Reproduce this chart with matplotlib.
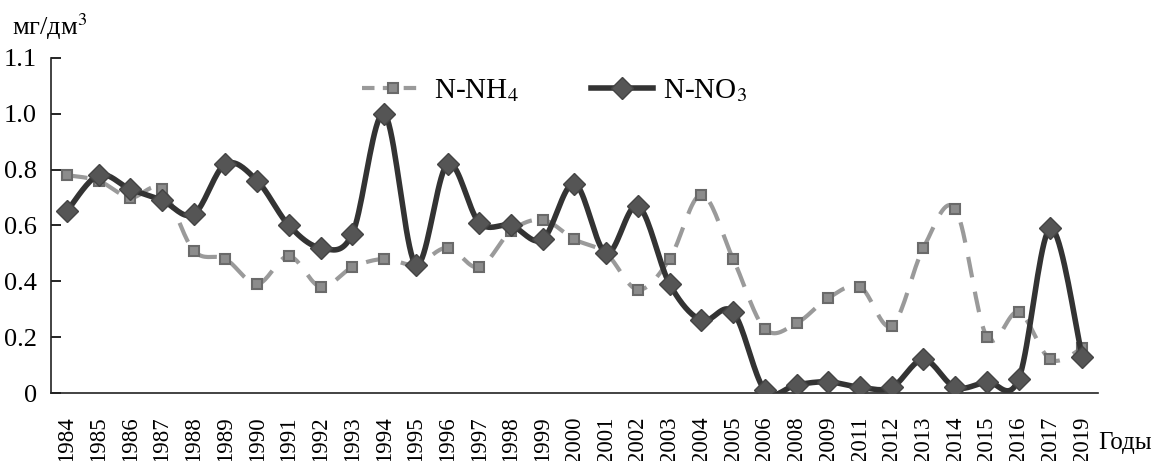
import numpy as np
import matplotlib
matplotlib.use('Agg')
import matplotlib.pyplot as plt

plt.rcParams['font.family'] = ['Liberation Serif', 'DejaVu Serif']
plt.rcParams['mathtext.fontset'] = 'stix'

years = ['1984', '1985', '1986', '1987', '1988', '1989', '1990', '1991', '1992', '1993',
         '1994', '1995', '1996', '1997', '1998', '1999', '2000', '2001', '2002', '2003',
         '2004', '2005', '2006', '2008', '2009', '2011', '2012', '2013', '2014', '2015',
         '2016', '2017', '2019']

nh4 = [0.78, 0.76, 0.70, 0.73, 0.51, 0.48, 0.39, 0.49, 0.38, 0.45,
       0.48, 0.46, 0.52, 0.45, 0.58, 0.62, 0.55, 0.50, 0.37, 0.48,
       0.71, 0.48, 0.23, 0.25, 0.34, 0.38, 0.24, 0.52, 0.66, 0.20,
       0.29, 0.12, 0.16]

no3 = [0.65, 0.78, 0.73, 0.69, 0.64, 0.82, 0.76, 0.60, 0.52, 0.57,
       1.00, 0.46, 0.82, 0.61, 0.60, 0.55, 0.75, 0.50, 0.67, 0.39,
       0.26, 0.29, 0.01, 0.03, 0.04, 0.02, 0.02, 0.12, 0.02, 0.04,
       0.05, 0.59, 0.13]

y_ticks = [0, 0.2, 0.4, 0.6, 0.8, 1.0, 1.2]
y_labels = ['0', '0.2', '0.4', '0.6', '0.8', '1.0', '1.1']


def smooth(x, y, n=20):
    # excel-like smoothed line (bezier through the points)
    x = np.asarray(x, float)
    y = np.asarray(y, float)
    px = np.concatenate([[x[0]], x, [x[-1]]])
    py = np.concatenate([[y[0]], y, [y[-1]]])
    xs, ys = [], []
    t = np.linspace(0, 1, n, endpoint=False)
    for i in range(1, len(px) - 2):
        p0, p1, p2, p3 = py[i - 1], py[i], py[i + 1], py[i + 2]
        q0, q1, q2, q3 = px[i - 1], px[i], px[i + 1], px[i + 2]
        k = 1 / 6.0
        c1y, c2y = p1 + (p2 - p0) * k, p2 - (p3 - p1) * k
        c1x, c2x = q1 + (q2 - q0) * k, q2 - (q3 - q1) * k
        b0 = (1 - t) ** 3
        b1 = 3 * (1 - t) ** 2 * t
        b2 = 3 * (1 - t) * t ** 2
        b3 = t ** 3
        xs.append(b0 * q1 + b1 * c1x + b2 * c2x + b3 * q2)
        ys.append(b0 * p1 + b1 * c1y + b2 * c2y + b3 * p2)
    xs.append([x[-1]])
    ys.append([y[-1]])
    return np.concatenate(xs), np.concatenate(ys)


fig = plt.figure(figsize=(11.57, 4.61), dpi=100)
ax = fig.add_axes([0.044, 0.1475, 0.905, 0.727])

x = np.arange(len(years))

sx, sy = smooth(x, nh4)
ax.plot(sx, sy, color='#9a9a9a', lw=3, dashes=(5, 3.5), zorder=2)
ax.plot(x, nh4, ls='none', marker='s', ms=7, mfc='#8c8c8c', mec='#6a6a6a', mew=1.5, zorder=3)

sx, sy = smooth(x, no3)
ax.plot(sx, sy, color='#333333', lw=4, zorder=4)
ax.plot(x, no3, ls='none', marker='D', ms=11, mfc='#555555', mec='#444444', mew=1, zorder=5)

# legend handles
h1, = ax.plot([], [], color='#9a9a9a', lw=3, dashes=(3, 2), marker='s', ms=7,
              mfc='#8c8c8c', mec='#6a6a6a', mew=1.5)
h2, = ax.plot([], [], color='#333333', lw=4, marker='D', ms=11, mfc='#555555', mec='#444444')
ax.legend([h1, h2], ['N-NH$_4$', 'N-NO$_3$'], ncol=2, frameon=False, fontsize=21,
          loc='upper center', bbox_to_anchor=(0.481, 1.02), handlelength=2.1,
          handletextpad=0.35, columnspacing=2.5)

ax.set_xlim(-0.5, len(years) - 0.5)
ax.set_ylim(0, 1.2)
ax.set_yticks(y_ticks)
ax.set_yticklabels(y_labels, fontsize=19)
ax.set_xticks(x)
ax.set_xticklabels(years, rotation=90, fontsize=16.5)
ax.tick_params(axis='y', direction='in', length=7, width=1.2, pad=10)
ax.tick_params(axis='x', length=0, pad=17)
ax.spines['top'].set_visible(False)
ax.spines['right'].set_visible(False)
ax.spines['left'].set_linewidth(1.2)
ax.spines['bottom'].set_linewidth(1.2)
ax.spines['bottom'].set_color('#222222')
ax.spines['left'].set_color('#222222')

fig.text(0.01, 0.925, 'мг/дм$^3$', fontsize=19)
fig.text(0.949, 0.025, 'Годы', fontsize=18, va='baseline')

fig.savefig('out.png', dpi=100)
